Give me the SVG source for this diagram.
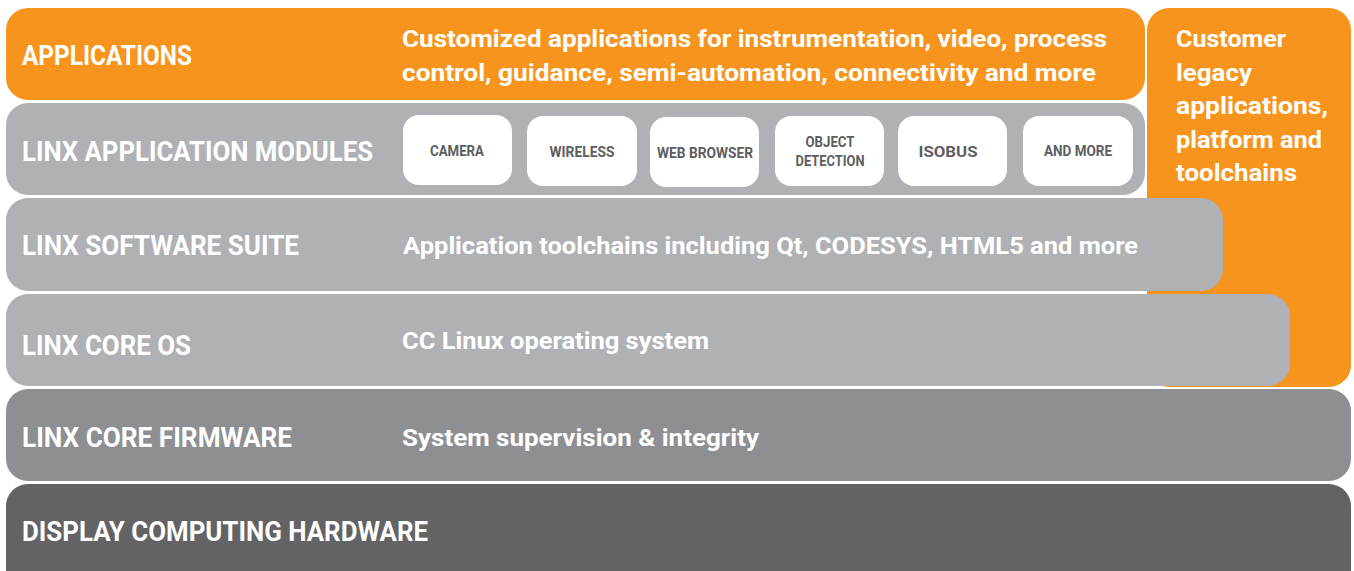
<svg xmlns="http://www.w3.org/2000/svg" width="1354" height="571" viewBox="0 0 1354 571">
<style>
.orange{fill:#f7941d}
.lg{fill:#b0b1b4}
.mg{fill:#8e8f93}
.dg{fill:#636365}
.mod{fill:#ffffff}
.h{font-family:Roboto,"Liberation Sans",sans-serif;font-weight:bold;font-size:27px;fill:#ffffff}
.d{font-family:Roboto,"Liberation Sans",sans-serif;font-weight:bold;font-size:24px;fill:#ffffff}
.m{font-family:Roboto,"Liberation Sans",sans-serif;font-weight:bold;font-size:15px;fill:#5d5e60;text-anchor:middle}
</style>
<rect width="1354" height="571" fill="#ffffff"/>
<g id="customer">
<rect class="orange" x="1147" y="8" width="204" height="379" rx="22"/>
<text class="d" x="1176" y="47" textLength="110" lengthAdjust="spacingAndGlyphs">Customer</text>
<text class="d" x="1176" y="81" textLength="76" lengthAdjust="spacingAndGlyphs">legacy</text>
<text class="d" x="1176" y="114" textLength="152" lengthAdjust="spacingAndGlyphs">applications,</text>
<text class="d" x="1176" y="148" textLength="146" lengthAdjust="spacingAndGlyphs">platform and</text>
<text class="d" x="1176" y="181" textLength="121" lengthAdjust="spacingAndGlyphs">toolchains</text>
</g>
<g id="applications">
<rect class="orange" x="6" y="8" width="1139" height="92" rx="22"/>
<text class="h" x="22" y="65" textLength="170" lengthAdjust="spacingAndGlyphs">APPLICATIONS</text>
<text class="d" x="402" y="47" textLength="705" lengthAdjust="spacingAndGlyphs">Customized applications for instrumentation, video, process</text>
<text class="d" x="402" y="81" textLength="694" lengthAdjust="spacingAndGlyphs">control, guidance, semi-automation, connectivity and more</text>
</g>
<g id="modules">
<rect class="lg" x="6" y="103" width="1139" height="92" rx="22"/>
<text class="h" x="22" y="161" textLength="351" lengthAdjust="spacingAndGlyphs">LINX APPLICATION MODULES</text>
</g>
<g id="module-camera">
<rect class="mod" x="403" y="115" width="109" height="70" rx="16"/>
<text class="m" x="457" y="156" textLength="54" lengthAdjust="spacingAndGlyphs">CAMERA</text>
</g>
<g id="module-wireless">
<rect class="mod" x="527" y="116" width="110" height="70" rx="16"/>
<text class="m" x="582" y="157" textLength="65" lengthAdjust="spacingAndGlyphs">WIRELESS</text>
</g>
<g id="module-web-browser">
<rect class="mod" x="650" y="117" width="109" height="70" rx="16"/>
<text class="m" x="705" y="158" textLength="96" lengthAdjust="spacingAndGlyphs">WEB BROWSER</text>
</g>
<g id="module-object-detection">
<rect class="mod" x="775" y="116" width="109" height="70" rx="16"/>
<text class="m" x="830" y="147" textLength="49" lengthAdjust="spacingAndGlyphs">OBJECT</text>
<text class="m" x="830" y="166" textLength="69" lengthAdjust="spacingAndGlyphs">DETECTION</text>
</g>
<g id="module-isobus">
<rect class="mod" x="898" y="116" width="109" height="70" rx="16"/>
<text class="m" x="948" y="157" textLength="59" lengthAdjust="spacingAndGlyphs">ISOBUS</text>
</g>
<g id="module-and-more">
<rect class="mod" x="1023" y="116" width="110" height="70" rx="16"/>
<text class="m" x="1078" y="156" textLength="68" lengthAdjust="spacingAndGlyphs">AND MORE</text>
</g>
<g id="software-suite">
<rect class="lg" x="6" y="198" width="1217" height="93" rx="22"/>
<text class="h" x="22" y="255" textLength="277" lengthAdjust="spacingAndGlyphs">LINX SOFTWARE SUITE</text>
<text class="d" x="403" y="254" textLength="735" lengthAdjust="spacingAndGlyphs">Application toolchains including Qt, CODESYS, HTML5 and more</text>
</g>
<g id="core-os">
<rect class="lg" x="6" y="294" width="1284" height="92" rx="22"/>
<text class="h" x="22" y="355" textLength="169" lengthAdjust="spacingAndGlyphs">LINX CORE OS</text>
<text class="d" x="402" y="349" textLength="307" lengthAdjust="spacingAndGlyphs">CC Linux operating system</text>
</g>
<g id="core-firmware">
<rect class="mg" x="6" y="389" width="1345" height="92" rx="22"/>
<text class="h" x="22" y="447" textLength="270" lengthAdjust="spacingAndGlyphs">LINX CORE FIRMWARE</text>
<text class="d" x="402" y="446" textLength="357" lengthAdjust="spacingAndGlyphs">System supervision &amp; integrity</text>
</g>
<g id="hardware">
<rect class="dg" x="6" y="484" width="1345" height="110" rx="22"/>
<text class="h" x="22" y="541" textLength="406" lengthAdjust="spacingAndGlyphs">DISPLAY COMPUTING HARDWARE</text>
</g>
<g id="connectors"></g>
</svg>
